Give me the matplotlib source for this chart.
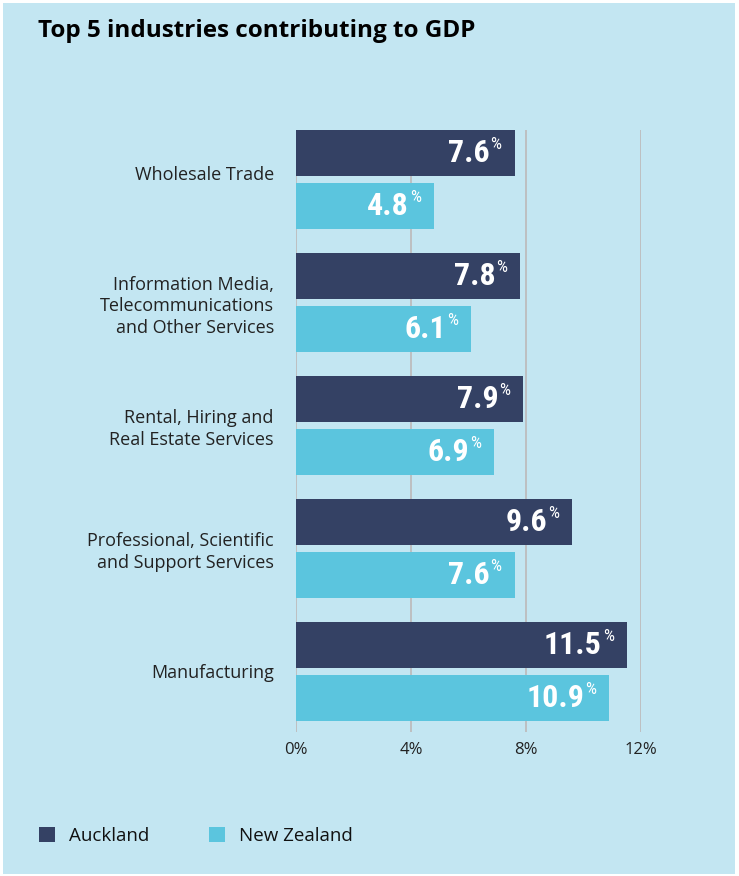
import matplotlib.pyplot as plt
from matplotlib.patches import Patch, Rectangle
from matplotlib.transforms import ScaledTranslation

categories = ['Wholesale Trade',
              'Information Media,\nTelecommunications\nand Other Services',
              'Rental, Hiring and\nReal Estate Services',
              'Professional, Scientific\nand Support Services',
              'Manufacturing']
auckland = [7.6, 7.8, 7.9, 9.6, 11.5]
new_zealand = [4.8, 6.1, 6.9, 7.6, 10.9]
x_ticks = [0, 4, 8, 12]
x_tick_labels = ['0%', '4%', '8%', '12%']

bg = '#c3e6f2'
dark = '#344164'
light = '#5bc5de'

plt.rcParams['font.family'] = ['Open Sans', 'Noto Sans', 'DejaVu Sans']

fig = plt.figure(figsize=(7.39, 8.76), dpi=100, facecolor='white')
fig.patches.append(Rectangle((3 / 739, 2 / 876), 732 / 739, 871 / 876,
                             transform=fig.transFigure, facecolor=bg,
                             edgecolor='none', zorder=-10))

ax = fig.add_axes([296 / 739, 1 - 732 / 876, 345 / 739, 602 / 876])
ax.set_facecolor('none')

pos = list(range(len(categories)))
h = 0.374
off = 0.215
ax.barh([p - off for p in pos], auckland, height=h, color=dark, zorder=3)
ax.barh([p + off for p in pos], new_zealand, height=h, color=light, zorder=3)

ax.set_xlim(0, 12)
ax.set_ylim(4.492, -0.402)
ax.set_xticks(x_ticks)
ax.set_xticklabels(x_tick_labels, fontsize=12, color='#222222')
ax.tick_params(axis='x', length=0, pad=7)
ax.set_yticks(pos)
ax.set_yticklabels(categories, fontsize=13, color='#222222',
                   linespacing=1.25)
ax.tick_params(axis='y', length=0, pad=16)
for s in ax.spines.values():
    s.set_visible(False)
ax.grid(axis='x', color='#bdbdbd', linewidth=1.3, zorder=0)

# the single-line top label sits a little above its group in the original
first = ax.get_yticklabels()[0]
first.set_transform(first.get_transform() + ScaledTranslation(0, 0.06, fig.dpi_scale_trans))

num_font = ['Roboto Condensed', 'Liberation Sans Narrow', 'Noto Sans', 'DejaVu Sans']
for vals, sign in [(auckland, -1), (new_zealand, 1)]:
    for p, v in zip(pos, vals):
        y = p + sign * off
        ax.annotate(f'{v:.1f}', (v, y), xytext=(-25, 0),
                    textcoords='offset pixels', ha='right', va='center',
                    color='white', fontsize=23, fontweight='bold',
                    fontstretch='condensed', family=num_font, zorder=4)
        ax.annotate('%', (v, y), xytext=(-24, 16),
                    textcoords='offset pixels', ha='left', va='top',
                    color='white', fontsize=12.5, fontstretch='condensed',
                    family=num_font, zorder=4)

fig.text(38 / 739, 1 - 31 / 876, 'Top 5 industries contributing to GDP',
         fontsize=17.5, fontweight='bold', color='black', va='center')

handles = [Patch(facecolor=dark, label='Auckland'),
           Patch(facecolor=light, label='New Zealand')]
fig.legend(handles=handles, loc='center left',
           bbox_to_anchor=(22 / 739, 1 - 836 / 876), ncol=2, frameon=False,
           fontsize=13.5, handlelength=0.85, handleheight=0.85,
           handletextpad=0.75, columnspacing=3.2, labelcolor='#111111')

fig.savefig('out.png', dpi=100, facecolor='white')
